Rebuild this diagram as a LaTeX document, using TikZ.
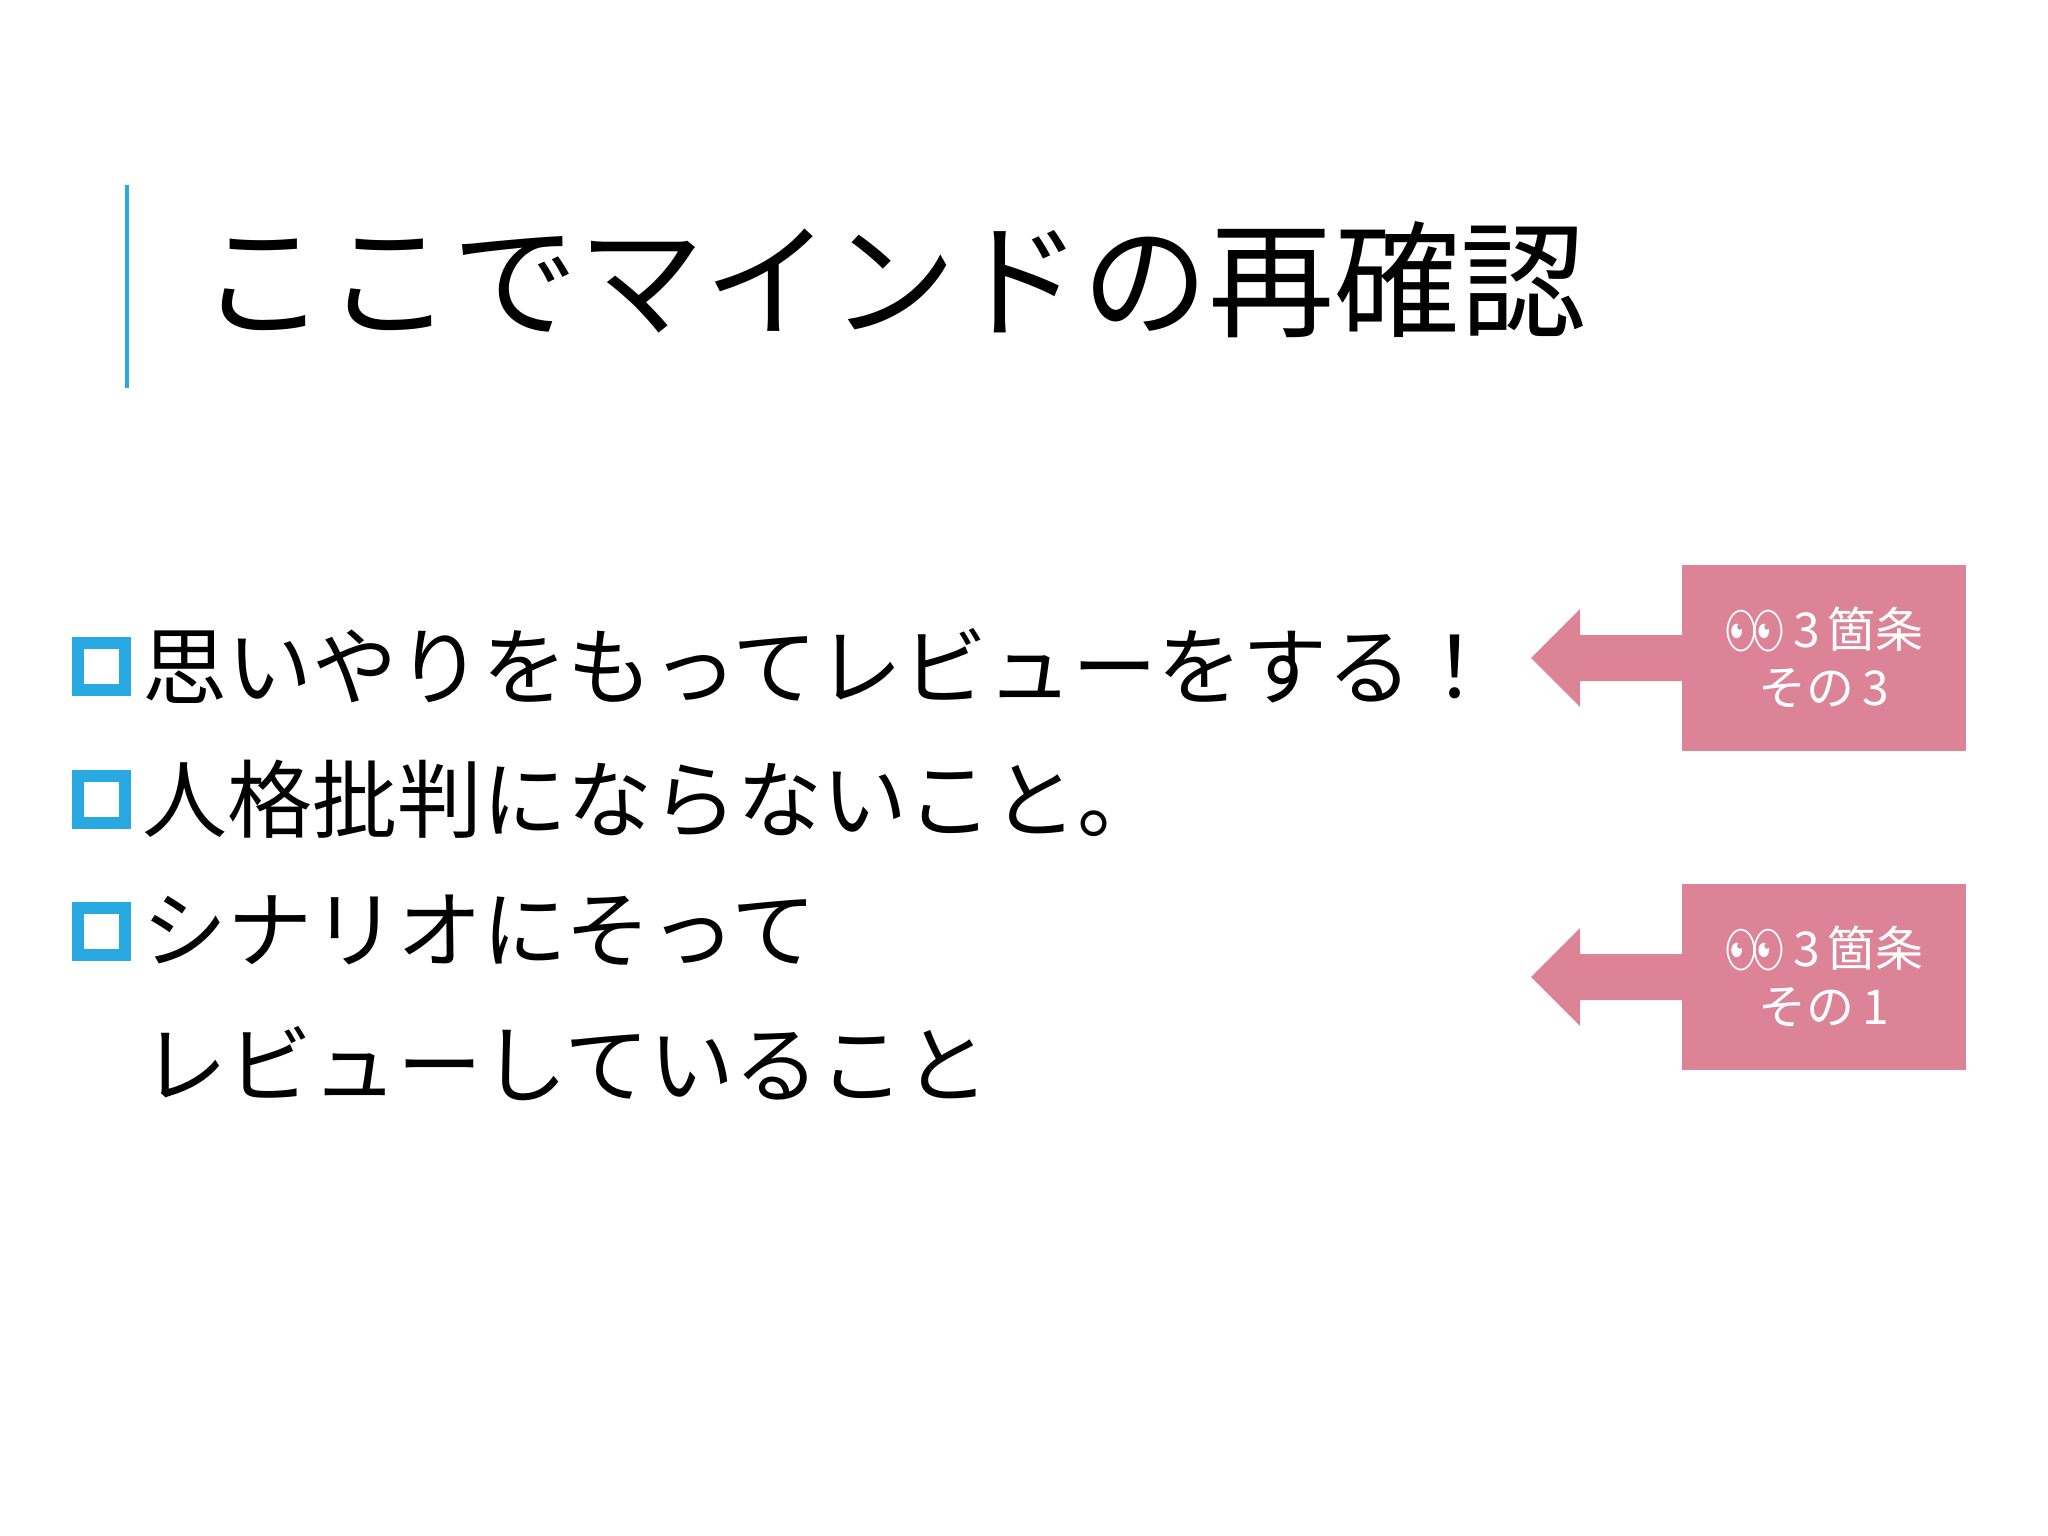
\documentclass[tikz,border=0pt]{standalone}
\usepackage{fontspec}
\setmainfont{Noto Sans CJK JP}
\newfontfamily\emo{Noto Emoji}
\definecolor{accent}{HTML}{29A9E1}
\definecolor{pinkc}{HTML}{DC8398}
\tikzset{
 bul/.style={draw=accent,line width=12pt,minimum size=47pt,inner sep=0pt},
 line/.style={anchor=west,inner sep=0pt,font=\fontsize{85}{85}\selectfont},
 pbox/.style={fill=pinkc,minimum width=284pt,minimum height=186pt,inner sep=0pt,text=white,align=center,font=\fontsize{48}{58}\selectfont}
}
\begin{document}
\begin{tikzpicture}[x=1pt,y=-1pt]
\useasboundingbox[fill=white] (0,0) rectangle (2048,1536);
\draw[accent,line width=3.5pt] (127,185) coordinate(t1) -- (127,388) coordinate(t2);
\node[anchor=west,inner sep=0pt,font=\fontsize{126}{126}\selectfont] (title) at (200,280) {ここでマインドの再確認};
\node[bul] (b1) at (101,666) {};
\node[bul] (b2) at (101,799) {};
\node[bul] (b3) at (101,931) {};
\node[line] (l1) at (142,666) {思いやりをもってレビューをする！};
\node[line] (l2) at (142,799) {人格批判にならないこと。};
\node[line] (l3) at (142,931) {シナリオにそって};
\node[line] (l4) at (142,1064) {レビューしていること};
\node[pbox] (p1) at (1824,658) {{\emo 👀}\,3\,箇条\\その\,3};
\node[pbox] (p2) at (1824,977) {{\emo 👀}\,3\,箇条\\その\,1};
\foreach \p/\c in {p1/658,p2/977}{
 \fill[pinkc] (\p.west |- 0,\c-23) -- (1580,\c-23) -- (1580,\c-49) -- (1531,\c) -- (1580,\c+49) -- (1580,\c+23) -- (\p.west |- 0,\c+23) -- cycle;
}
\end{tikzpicture}
\end{document}
